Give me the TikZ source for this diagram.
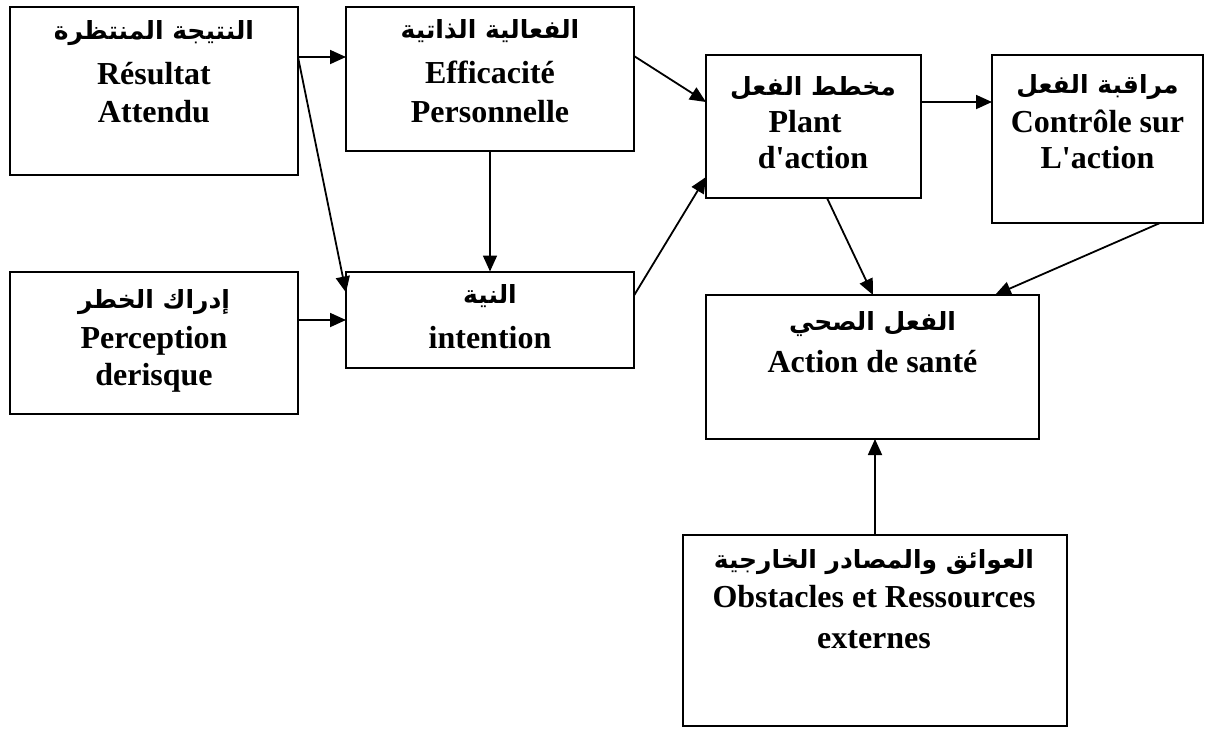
\documentclass[tikz,border=0pt]{standalone}
\usepackage{fontspec}
\setmainfont{Liberation Serif}[Ligatures=TeXOff]
\newfontfamily\arabicfont[Script=Arabic]{DejaVu Sans}
\TeXXeTstate=1
\usetikzlibrary{arrows.meta,calc}
\begin{document}
\begin{tikzpicture}[x=0.5pt,y=-0.5pt,
  box/.style={draw,line width=1pt,rectangle,inner sep=0pt,outer sep=0pt},
  lat/.style={font=\fontsize{16}{19}\selectfont\bfseries,anchor=base,inner sep=0pt},
  ara/.style={font=\fontsize{12.5}{14}\selectfont\arabicfont\bfseries,anchor=base,inner sep=0pt},
  arr/.style={line width=0.9pt,-{Triangle[length=8pt,width=7pt]}}]
\useasboundingbox (0,0) rectangle (1207,729);
% boxes
\node[box,minimum width=144pt,minimum height=84pt] (b1) at (154,91) {};
\node[box,minimum width=144pt,minimum height=72pt] (b2) at (490,79) {};
\node[box,minimum width=107.5pt,minimum height=71.5pt] (b3) at (813.5,126.5) {};
\node[box,minimum width=105.5pt,minimum height=84pt] (b4) at (1097.5,139) {};
\node[box,minimum width=144pt,minimum height=71pt] (b5) at (154,343) {};
\node[box,minimum width=144pt,minimum height=48pt] (b6) at (490,319.5) {};
\node[box,minimum width=166.5pt,minimum height=72pt] (b7) at (872.5,367) {};
\node[box,minimum width=192pt,minimum height=95.5pt] (b8) at (875,630.5) {};
% texts
\node[ara] (t1a) at (154,39) {\beginR النتيجة المنتظرة\endR};
\node[lat] (t1b) at (154,84) {Résultat};
\node[lat] (t1c) at (154,122) {Attendu};
\node[ara] (t2a) at (490,38) {\beginR الفعالية الذاتية\endR};
\node[lat] (t2b) at (490,83) {Efficacité};
\node[lat] (t2c) at (490,122) {Personnelle};
\node[ara] (t3a) at (813,95) {\beginR مخطط الفعل\endR};
\node[lat] (t3b) at (805,132) {Plant};
\node[lat] (t3c) at (813,168) {d'action};
\node[ara] (t4a) at (1097.5,93) {\beginR مراقبة الفعل\endR};
\node[lat] (t4b) at (1097.5,132) {Contrôle sur};
\node[lat] (t4c) at (1097.5,168) {L'action};
\node[ara] (t5a) at (154,308) {\beginR إدراك الخطر\endR};
\node[lat] (t5b) at (154,348) {Perception};
\node[lat] (t5c) at (154,385) {derisque};
\node[ara] (t6a) at (490,303) {\beginR النية\endR};
\node[lat] (t6b) at (490,348) {intention};
\node[ara] (t7a) at (872.5,330) {\beginR الفعل الصحي\endR};
\node[lat] (t7b) at (872.5,372) {Action de santé};
\node[ara] (t8a) at (874,568) {\beginR العوائق والمصادر الخارجية\endR};
\node[lat] (t8b) at (874,607) {Obstacles et Ressources};
\node[lat] (t8c) at (874,648) {externes};
% connectors
\draw[arr] ($(b1.north east)+(0,50)$) -- ($(b2.north west)+(0,50)$);
\draw[arr] ($(b1.north east)+(0,50)$) -- ($(b6.north west)+(0,21)$);
\draw[arr] ($(b5.north east)+(0,48)$) -- ($(b6.north west)+(0,48.5)$);
\draw[arr] (b2.south) -- (b6.north);
\draw[arr] ($(b2.north east)+(0,49)$) -- ($(b3.north west)+(0,47)$);
\draw[arr] ($(b6.north east)+(0,24)$) -- ($(b3.north west)+(0,122)$);
\draw[arr] ($(b3.north east)+(0,47)$) -- ($(b4.north west)+(0,47)$);
\draw[arr] ($(b3.south west)+(121,0)$) -- ($(b7.north west)+(167,0)$);
\draw[arr] ($(b4.south west)+(168,0)$) -- ($(b7.north east)+(-44,0)$);
\draw[arr] (b8.north) -- (b8.north |- b7.south);
\end{tikzpicture}
\end{document}
